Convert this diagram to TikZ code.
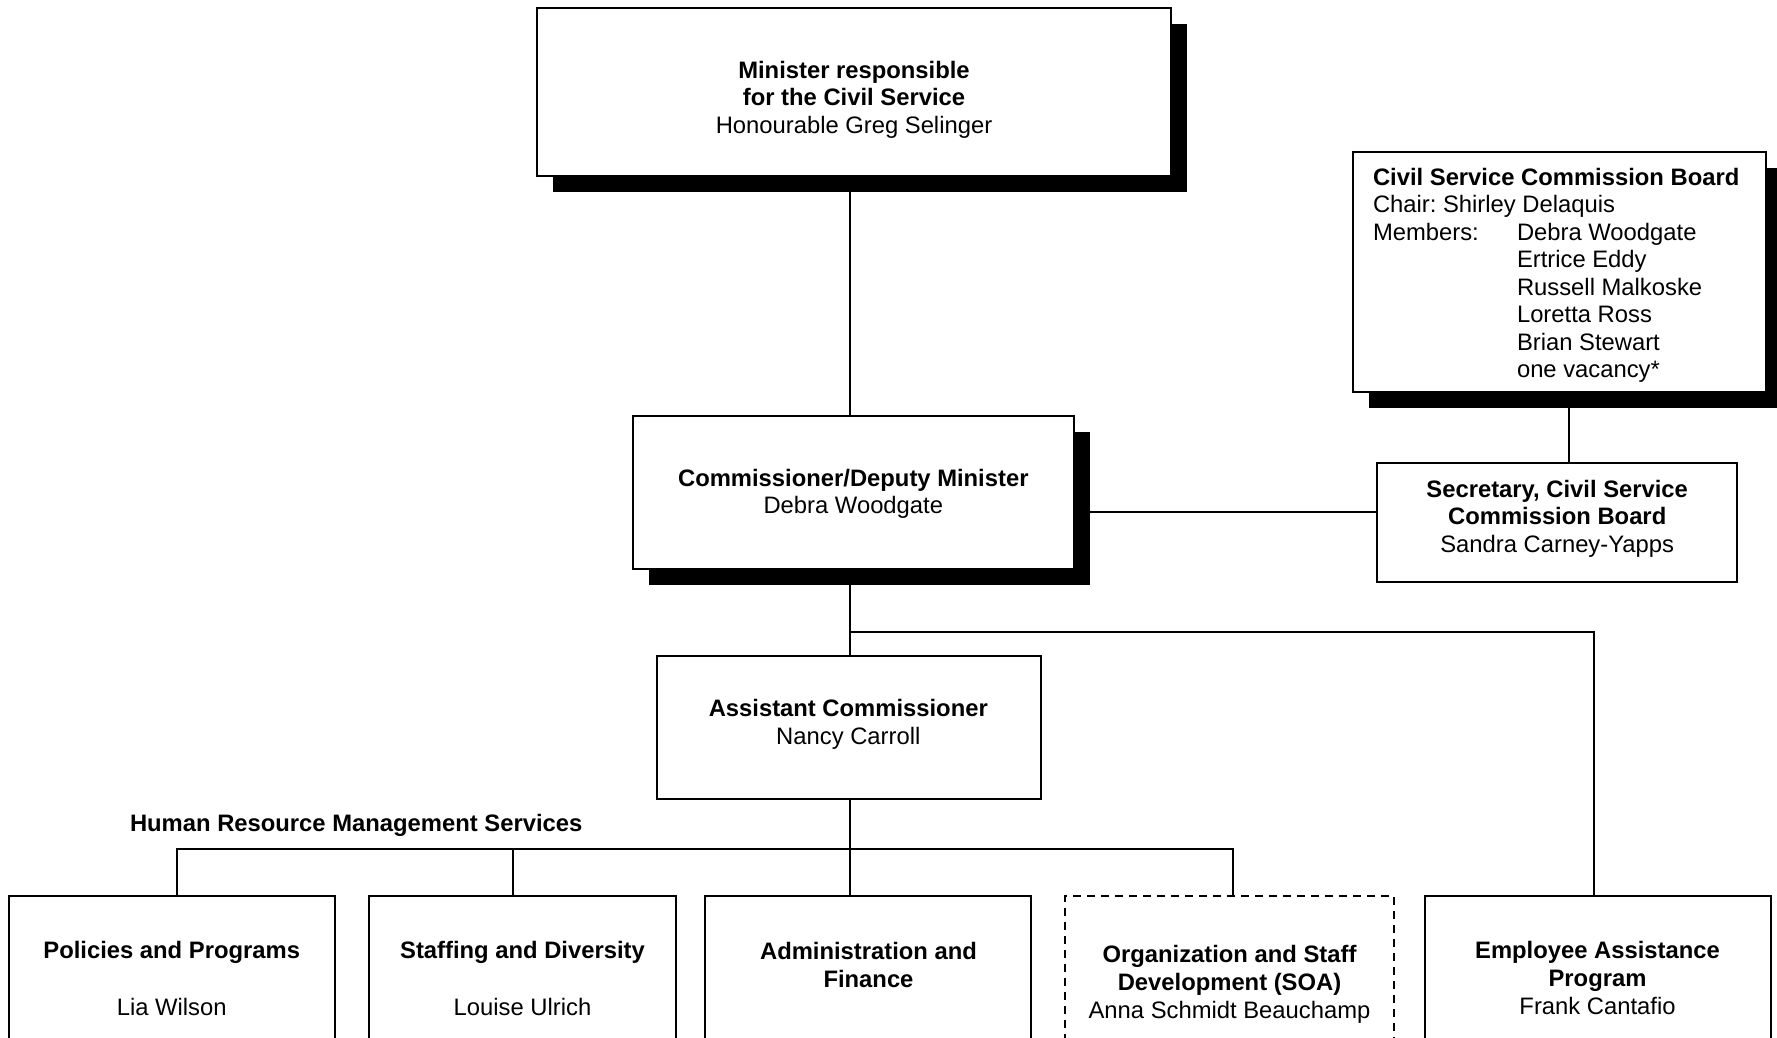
\documentclass[tikz,border=0pt]{standalone}
\usepackage{fontspec}
\setmainfont{Liberation Sans}
\usetikzlibrary{shadows}
\frenchspacing
\begin{document}
\begin{tikzpicture}[x=1pt,y=-1pt,
  every node/.style={inner sep=0pt, outer sep=0pt, font=\fontsize{23.8pt}{27.5pt}\selectfont},
  box/.style={draw=black, line width=2pt, fill=white, rectangle, anchor=north west},
  shbox/.style={box, drop shadow={shadow xshift=16pt, shadow yshift=-16pt, opacity=1, fill=black}},
  dbox/.style={box, dash pattern=on 8pt off 6pt},
  txt/.style={anchor=base},
  link/.style={line width=2pt},
]
\clip (0,0) rectangle (1777,1037);
\fill[white] (0,0) rectangle (1777,1037);

% boxes
\node[shbox, minimum width=634pt, minimum height=168pt] (minister) at (537,8) {};
\node[shbox, minimum width=413pt, minimum height=240pt] (board) at (1352.7,151.7) {};
\node[shbox, minimum width=441.6pt, minimum height=153.6pt] (comm) at (632.7,415.7) {};
\node[box, minimum width=360.6pt, minimum height=118.4pt] (sec) at (1376.7,463.3) {};
\node[box, minimum width=384.3pt, minimum height=143pt] (asst) at (656.7,656) {};
\node[box, minimum width=326pt, minimum height=170pt] (pol) at (9,896) {};
\node[box, minimum width=307pt, minimum height=170pt] (staff) at (369,896) {};
\node[box, minimum width=326pt, minimum height=170pt] (admin) at (705,896) {};
\node[dbox, minimum width=329pt, minimum height=170pt] (soa) at (1065,896) {};
\node[box, minimum width=345.7pt, minimum height=170pt] (eap) at (1425,896) {};

% texts
\node[txt] (tminister) at (854,78.3) {\begin{tabular}[t]{@{}c@{}}\textbf{Minister responsible}\\ \textbf{for the Civil Service}\\ Honourable Greg Selinger\end{tabular}};
\node[anchor=base west] (tboard) at (1373,185) {\begin{tabular}[t]{@{}l@{}l@{}}
\multicolumn{2}{@{}l@{}}{\textbf{Civil Service Commission Board}}\\
\multicolumn{2}{@{}l@{}}{Chair: Shirley Delaquis}\\
\makebox[144pt][l]{Members:} & Debra Woodgate\\
 & Ertrice Eddy\\
 & Russell Malkoske\\
 & Loretta Ross\\
 & Brian Stewart\\
 & one vacancy*\end{tabular}};
\node[txt] (tcomm) at (853.3,486.2) {\begin{tabular}[t]{@{}c@{}}\textbf{Commissioner/Deputy Minister}\\ Debra Woodgate\end{tabular}};
\node[txt] (tsec) at (1557.2,497.3) {\begin{tabular}[t]{@{}c@{}}\textbf{Secretary, Civil Service}\\ \textbf{Commission Board}\\ Sandra Carney-Yapps\end{tabular}};
\node[txt] (tasst) at (848.3,716.5) {\begin{tabular}[t]{@{}c@{}}\textbf{Assistant Commissioner}\\ Nancy Carroll\end{tabular}};
\node[anchor=base west] (thrms) at (130,831.7) {\textbf{Human Resource Management Services}};
\node[txt] (tpol) at (171.7,958.5) {\begin{tabular}[t]{@{}c@{}}\textbf{Policies and Programs}\\[29pt] Lia Wilson\end{tabular}};
\node[txt] (tstaff) at (522.5,958.5) {\begin{tabular}[t]{@{}c@{}}\textbf{Staffing and Diversity}\\[29pt] Louise Ulrich\end{tabular}};
\node[txt] (tadmin) at (868.5,959.5) {\begin{tabular}[t]{@{}c@{}}\textbf{Administration and}\\ \textbf{Finance}\end{tabular}};
\node[txt] (tsoa) at (1229.5,962.5) {\begin{tabular}[t]{@{}c@{}}\textbf{Organization and Staff}\\[0.5pt] \textbf{Development (SOA)}\\[0.5pt] Anna Schmidt Beauchamp\end{tabular}};
\node[txt] (teap) at (1597.5,958) {\begin{tabular}[t]{@{}c@{}}\textbf{Employee Assistance}\\[0.8pt] \textbf{Program}\\[0.8pt] Frank Cantafio\end{tabular}};

% connector coordinates
\coordinate (spine) at (849.5,0);
\coordinate (cs) at (0,511.5);
\coordinate (bx) at (1569,0);
\coordinate (toeap) at (0,631.5);
\coordinate (eapx) at (1593.5,0);
\coordinate (bus) at (0,848.5);
\coordinate (d1) at (176.7,0);
\coordinate (d2) at (513.3,0);
\coordinate (d4) at (1232.7,0);

% connectors
\draw[link] (spine |- minister.south) -- (spine |- comm.north);
\draw[link] (cs -| comm.east) -- (cs -| sec.west);
\draw[link] (bx |- board.south) -- (bx |- sec.north);
\draw[link] (spine |- comm.south) -- (spine |- asst.north);
\draw[link] (spine |- toeap) -| (eapx |- eap.north);
\draw[link] (spine |- asst.south) -- (spine |- admin.north);
\draw[link] (d1 |- pol.north) -- (d1 |- bus) -- (d4 |- bus) -- (d4 |- soa.north);
\draw[link] (d2 |- bus) -- (d2 |- staff.north);
\end{tikzpicture}
\end{document}
